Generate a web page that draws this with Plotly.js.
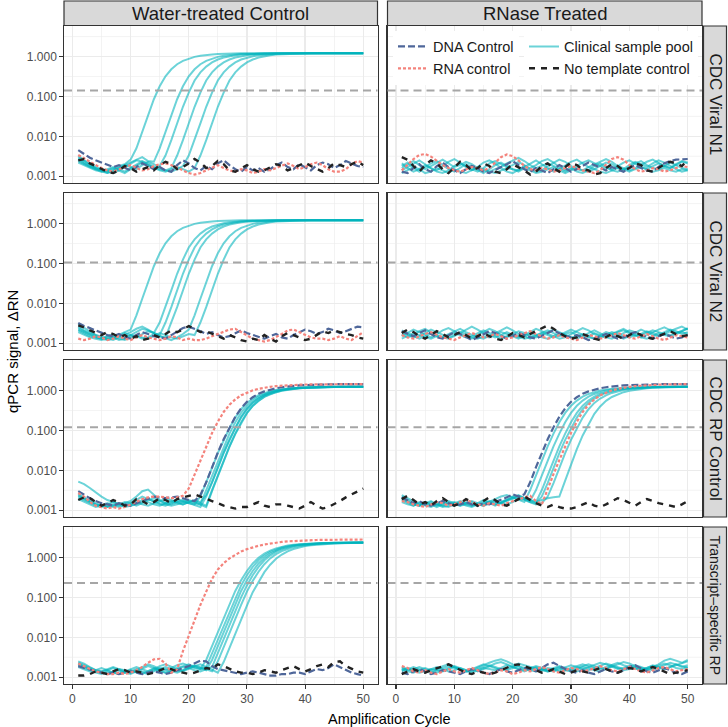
<!DOCTYPE html>
<html>
<head>
<meta charset="utf-8">
<script src="https://cdn.plot.ly/plotly-3.0.1.min.js"></script>
<style>html,body{margin:0;padding:0;background:#fff;}#chart{width:728px;height:727px;}</style>
</head>
<body>
<div id="chart"></div>
<script>
// ---------------- DATA ----------------
const cycles = [1,2,3,4,5,6,7,8,9,10,11,12,13,14,15,16,17,18,19,20,21,22,23,24,25,26,27,28,29,30,31,32,33,34,35,36,37,38,39,40,41,42,43,44,45,46,47,48,49,50];
const treatments = ["Water-treated Control", "RNase Treated"];
const targets = ["CDC Viral N1", "CDC Viral N2", "CDC RP Control", "Transcript\u2013specific RP"];
const thresholds = [0.14, 0.105, 0.12, 0.23];
const seriesNames = ["DNA Control", "RNA control", "Clinical sample pool", "No template control"];

// ---- CDC Viral N1, water-treated ----
const n1w_dna = [.0045,.0036,.0029,.0025,.0022,.0019,.0017,.0019,.0016,.0014,
.0017,.0021,.0018,.0015,.0017,.0014,.0013,.0019,.0025,.0021,
.0016,.0014,.0018,.0015,.0021,.0025,.0019,.0015,.0013,.0017,
.0014,.0016,.0013,.0015,.0019,.0022,.0017,.0015,.0020,.0017,
.0014,.0019,.0022,.0020,.0016,.0019,.0024,.0021,.0018,.0017];
const n1w_rna = [.0034,.0028,.0022,.0019,.0016,.0014,.0013,.0015,.0017,.0019,
.0016,.0014,.0015,.0018,.0020,.0021,.0019,.0016,.0014,.0012,
.0011,.0012,.0014,.0017,.0019,.0016,.0014,.0013,.0015,.0014,
.0012,.0013,.0015,.0014,.0016,.0019,.0021,.0018,.0015,.0017,
.0020,.0022,.0019,.0015,.0013,.0013,.0015,.0020,.0024,.0022];
const n1w_ntc = [.0025,.0027,.0021,.0018,.0015,.0013,.0012,.0014,.0018,.0016,
.0013,.0015,.0017,.0014,.0019,.0023,.0020,.0015,.0017,.0021,
.0027,.0022,.0016,.0018,.0024,.0020,.0014,.0013,.0016,.0019,
.0015,.0013,.0014,.0017,.0020,.0018,.0014,.0016,.0019,.0022,
.0018,.0015,.0013,.0016,.0021,.0019,.0017,.0020,.0023,.0019];
const n1w_clin = [
[.0030,.0024,.0019,.0016,.0014,.0013,.0015,.0018,.0020,.0026,
.005,.013,.035,.085,.18,.32,.48,.64,.78,.89,
.98,1.05,1.10,1.13,1.15,1.17,1.18,1.19,1.2,1.2,
1.2,1.2,1.2,1.2,1.2,1.2,1.2,1.2,1.2,1.2,
1.2,1.2,1.2,1.2,1.2,1.2,1.2,1.2,1.2,1.2],
[.0028,.0022,.0018,.0015,.0013,.0012,.0014,.0016,.0019,.0022,
.0026,.0030,.0024,.0023,.005,.013,.035,.085,.18,.32,
.48,.64,.78,.89,.98,1.05,1.10,1.13,1.15,1.17,
1.18,1.19,1.2,1.2,1.2,1.2,1.2,1.2,1.2,1.2,
1.2,1.2,1.2,1.2,1.2,1.2,1.2,1.2,1.2,1.2],
[.0033,.0026,.0020,.0017,.0015,.0013,.0012,.0014,.0017,.0021,
.0025,.0023,.0019,.0016,.0018,.0033,.008,.021,.055,.125,
.25,.40,.56,.71,.84,.94,1.02,1.08,1.12,1.14,
1.16,1.175,1.185,1.19,1.2,1.2,1.2,1.2,1.2,1.2,
1.2,1.2,1.2,1.2,1.2,1.2,1.2,1.2,1.2,1.2],
[.0026,.0021,.0018,.0016,.0014,.0015,.0017,.0015,.0013,.0016,
.0020,.0024,.0021,.0017,.0015,.0014,.0016,.0033,.008,.021,
.055,.125,.25,.40,.56,.71,.84,.94,1.02,1.08,
1.12,1.14,1.16,1.175,1.185,1.19,1.2,1.2,1.2,1.2,
1.2,1.2,1.2,1.2,1.2,1.2,1.2,1.2,1.2,1.2],
[.0024,.0020,.0017,.0015,.0014,.0012,.0013,.0016,.0019,.0017,
.0015,.0019,.0023,.0020,.0016,.0014,.0013,.0015,.0018,.0033,
.008,.021,.055,.125,.25,.40,.56,.71,.84,.94,
1.02,1.08,1.12,1.14,1.16,1.175,1.185,1.19,1.2,1.2,
1.2,1.2,1.2,1.2,1.2,1.2,1.2,1.2,1.2,1.2],
[.0022,.0019,.0016,.0014,.0013,.0014,.0016,.0014,.0012,.0015,
.0018,.0022,.0019,.0016,.0014,.0013,.0015,.0017,.0015,.0013,
.0016,.0033,.008,.021,.055,.125,.25,.40,.56,.71,
.84,.94,1.02,1.08,1.12,1.14,1.16,1.175,1.185,1.19,
1.2,1.2,1.2,1.2,1.2,1.2,1.2,1.2,1.2,1.2]];

// ---- CDC Viral N1, RNase treated ----
const n1r_dna = [.0013,.0012,.0016,.0020,.0015,.0013,.0018,.0022,.0017,.0014,
.0012,.0015,.0018,.0016,.0013,.0012,.0014,.0017,.0020,.0024,
.0019,.0015,.0013,.0016,.0014,.0012,.0015,.0019,.0016,.0013,
.0015,.0018,.0022,.0019,.0016,.0014,.0017,.0015,.0013,.0016,
.0019,.0016,.0014,.0013,.0017,.0021,.0024,.0026,.0027,.0027];
const n1r_rna = [.0014,.0019,.0027,.0034,.0036,.0031,.0024,.0019,.0016,.0014,
.0013,.0015,.0017,.0016,.0014,.0016,.0022,.0030,.0035,.0032,
.0025,.0018,.0015,.0014,.0016,.0015,.0013,.0014,.0016,.0018,
.0016,.0014,.0013,.0012,.0014,.0019,.0027,.0030,.0026,.0019,
.0015,.0013,.0014,.0016,.0015,.0013,.0014,.0016,.0018,.0017];
const n1r_ntc = [.0030,.0026,.0018,.0013,.0019,.0025,.0021,.0015,.0012,.0017,
.0023,.0019,.0014,.0016,.0021,.0018,.0013,.0012,.0015,.0020,
.0017,.0014,.0011,.0013,.0018,.0021,.0016,.0013,.0017,.0022,
.0019,.0015,.0014,.0011,.0012,.0016,.0020,.0018,.0014,.0016,
.0021,.0019,.0014,.0013,.0016,.0020,.0023,.0021,.0018,.0025];
const n1r_clin = [
[.0018,.0022,.0016,.0013,.0017,.0021,.0024,.0019,.0015,.0013,
.0016,.0020,.0017,.0014,.0012,.0015,.0019,.0022,.0018,.0015,
.0014,.0017,.0021,.0025,.0020,.0016,.0013,.0015,.0019,.0023,
.0026,.0021,.0017,.0015,.0018,.0022,.0020,.0016,.0014,.0017,
.0021,.0024,.0019,.0016,.0015,.0018,.0022,.0019,.0016,.0015],
[.0014,.0017,.0021,.0025,.0020,.0016,.0014,.0018,.0023,.0027,
.0022,.0017,.0015,.0013,.0016,.0021,.0024,.0020,.0017,.0019,
.0023,.0019,.0015,.0013,.0014,.0018,.0022,.0026,.0023,.0018,
.0015,.0014,.0017,.0020,.0024,.0027,.0023,.0018,.0016,.0014,
.0016,.0019,.0023,.0026,.0022,.0018,.0016,.0019,.0023,.0021],
[.0021,.0016,.0013,.0015,.0019,.0016,.0013,.0012,.0014,.0018,
.0021,.0018,.0014,.0017,.0022,.0025,.0021,.0016,.0013,.0012,
.0015,.0018,.0016,.0019,.0024,.0027,.0022,.0017,.0014,.0016,
.0013,.0012,.0014,.0018,.0021,.0017,.0014,.0013,.0015,.0019,
.0023,.0020,.0017,.0021,.0025,.0022,.0018,.0015,.0013,.0014],
[.0016,.0020,.0024,.0019,.0015,.0018,.0022,.0026,.0021,.0017,
.0019,.0023,.0020,.0016,.0014,.0013,.0015,.0017,.0021,.0025,
.0029,.0024,.0019,.0016,.0018,.0021,.0018,.0015,.0013,.0015,
.0018,.0022,.0025,.0021,.0018,.0016,.0015,.0018,.0022,.0025,
.0021,.0017,.0015,.0018,.0021,.0018,.0016,.0020,.0024,.0022],
[.0012,.0014,.0017,.0015,.0012,.0013,.0016,.0014,.0012,.0015,
.0013,.0012,.0014,.0017,.0015,.0013,.0012,.0014,.0016,.0015,
.0013,.0016,.0014,.0012,.0013,.0015,.0017,.0014,.0012,.0014,
.0016,.0014,.0013,.0015,.0013,.0012,.0014,.0016,.0015,.0013,
.0015,.0017,.0015,.0013,.0014,.0016,.0014,.0013,.0015,.0014]];

// ---- CDC Viral N2, water-treated ----
const n2w_dna = [.0032,.0027,.0024,.0021,.0018,.0016,.0015,.0017,.0014,.0013,
.0016,.0019,.0017,.0015,.0014,.0013,.0016,.0020,.0024,.0026,
.0023,.0020,.0017,.0019,.0016,.0014,.0015,.0018,.0021,.0018,
.0016,.0014,.0013,.0015,.0017,.0014,.0013,.0016,.0019,.0022,
.0020,.0017,.0019,.0023,.0021,.0018,.0020,.0023,.0026,.0025];
const n2w_rna = [.0013,.0012,.0013,.0015,.0014,.0012,.0013,.0015,.0013,.0012,
.0014,.0016,.0014,.0013,.0012,.0013,.0015,.0014,.0012,.0013,
.0012,.0012,.0013,.0015,.0017,.0019,.0022,.0023,.0019,.0015,
.0013,.0012,.0011,.0012,.0014,.0017,.0021,.0022,.0019,.0016,
.0014,.0013,.0013,.0012,.0013,.0015,.0013,.0012,.0015,.0019];
const n2w_ntc = [.0028,.0025,.0021,.0018,.0016,.0019,.0017,.0014,.0016,.0013,
.0015,.0012,.0013,.0016,.0014,.0017,.0021,.0019,.0022,.0027,
.0023,.0019,.0020,.0017,.0015,.0013,.0016,.0014,.0012,.0011,
.0013,.0012,.0016,.0013,.0011,.0015,.0018,.0016,.0014,.0012,
.0013,.0016,.0020,.0018,.0021,.0019,.0017,.0016,.0014,.0013];
const n2w_clin = [
[.0026,.0021,.0018,.0016,.0014,.0013,.0014,.0016,.0019,.0022,
.005,.013,.035,.085,.18,.32,.48,.64,.78,.89,
.98,1.05,1.10,1.13,1.15,1.17,1.18,1.19,1.2,1.2,
1.2,1.2,1.2,1.2,1.2,1.2,1.2,1.2,1.2,1.2,
1.2,1.2,1.2,1.2,1.2,1.2,1.2,1.2,1.2,1.2],
[.0022,.0019,.0016,.0014,.0013,.0015,.0017,.0015,.0013,.0016,
.0019,.0023,.0021,.0018,.0033,.008,.021,.055,.125,.25,
.40,.56,.71,.84,.94,1.02,1.08,1.12,1.14,1.16,
1.175,1.185,1.19,1.2,1.2,1.2,1.2,1.2,1.2,1.2,
1.2,1.2,1.2,1.2,1.2,1.2,1.2,1.2,1.2,1.2],
[.0030,.0024,.0019,.0016,.0014,.0013,.0012,.0014,.0016,.0019,
.0023,.0026,.0022,.0018,.0016,.0033,.008,.021,.055,.125,
.25,.40,.56,.71,.84,.94,1.02,1.08,1.12,1.14,
1.16,1.175,1.185,1.19,1.2,1.2,1.2,1.2,1.2,1.2,
1.2,1.2,1.2,1.2,1.2,1.2,1.2,1.2,1.2,1.2],
[.0024,.0020,.0017,.0015,.0013,.0012,.0013,.0015,.0018,.0016,
.0014,.0017,.0020,.0018,.0015,.0014,.0033,.008,.021,.055,
.125,.25,.40,.56,.71,.84,.94,1.02,1.08,1.12,
1.14,1.16,1.175,1.185,1.19,1.2,1.2,1.2,1.2,1.2,
1.2,1.2,1.2,1.2,1.2,1.2,1.2,1.2,1.2,1.2],
[.0021,.0018,.0015,.0014,.0013,.0015,.0014,.0012,.0013,.0016,
.0015,.0013,.0014,.0017,.0015,.0013,.0012,.0014,.0017,.0022,
.005,.013,.035,.085,.18,.32,.48,.64,.78,.89,
.98,1.05,1.10,1.13,1.15,1.17,1.18,1.19,1.2,1.2,
1.2,1.2,1.2,1.2,1.2,1.2,1.2,1.2,1.2,1.2],
[.0019,.0016,.0014,.0013,.0012,.0013,.0015,.0013,.0012,.0014,
.0016,.0014,.0013,.0015,.0018,.0016,.0014,.0013,.0015,.0017,
.0016,.0033,.008,.021,.055,.125,.25,.40,.56,.71,
.84,.94,1.02,1.08,1.12,1.14,1.16,1.175,1.185,1.19,
1.2,1.2,1.2,1.2,1.2,1.2,1.2,1.2,1.2,1.2]];

// ---- CDC Viral N2, RNase treated ----
const n2r_dna = [.0020,.0017,.0015,.0018,.0021,.0017,.0014,.0013,.0016,.0019,
.0017,.0014,.0012,.0014,.0017,.0020,.0018,.0015,.0013,.0015,
.0018,.0016,.0014,.0013,.0015,.0018,.0021,.0018,.0015,.0014,
.0016,.0014,.0012,.0013,.0015,.0017,.0015,.0013,.0014,.0017,
.0019,.0016,.0014,.0013,.0015,.0017,.0015,.0013,.0014,.0016];
const n2r_rna = [.0016,.0014,.0013,.0015,.0017,.0019,.0016,.0014,.0013,.0012,
.0014,.0016,.0018,.0016,.0014,.0015,.0017,.0015,.0013,.0014,
.0016,.0018,.0020,.0017,.0015,.0013,.0014,.0016,.0014,.0013,
.0012,.0014,.0016,.0015,.0013,.0014,.0016,.0018,.0016,.0014,
.0013,.0015,.0017,.0015,.0013,.0012,.0014,.0016,.0015,.0014];
const n2r_ntc = [.0018,.0022,.0019,.0015,.0013,.0016,.0020,.0017,.0014,.0016,
.0019,.0016,.0013,.0015,.0018,.0015,.0013,.0012,.0015,.0018,
.0016,.0014,.0017,.0020,.0024,.0028,.0023,.0018,.0015,.0013,
.0014,.0017,.0015,.0013,.0012,.0014,.0017,.0015,.0013,.0016,
.0019,.0016,.0014,.0013,.0015,.0018,.0020,.0017,.0015,.0016];
const n2r_clin = [
[.0015,.0018,.0022,.0019,.0016,.0014,.0017,.0021,.0024,.0020,
.0017,.0015,.0013,.0016,.0019,.0023,.0020,.0016,.0014,.0017,
.0020,.0018,.0015,.0014,.0016,.0019,.0022,.0019,.0016,.0014,
.0013,.0015,.0018,.0021,.0018,.0015,.0017,.0020,.0023,.0019,
.0016,.0014,.0016,.0019,.0022,.0025,.0021,.0018,.0020,.0024],
[.0021,.0018,.0015,.0013,.0015,.0018,.0016,.0014,.0017,.0020,
.0023,.0019,.0016,.0014,.0013,.0015,.0018,.0021,.0025,.0021,
.0017,.0015,.0013,.0015,.0018,.0016,.0014,.0016,.0019,.0022,
.0019,.0016,.0014,.0013,.0016,.0019,.0017,.0015,.0013,.0015,
.0018,.0022,.0019,.0016,.0015,.0017,.0020,.0023,.0026,.0022],
[.0017,.0014,.0016,.0020,.0023,.0019,.0015,.0014,.0013,.0015,
.0018,.0022,.0026,.0022,.0018,.0016,.0014,.0016,.0019,.0016,
.0014,.0016,.0019,.0023,.0020,.0017,.0015,.0013,.0014,.0017,
.0020,.0024,.0021,.0017,.0015,.0014,.0016,.0019,.0021,.0018,
.0015,.0017,.0020,.0018,.0016,.0019,.0022,.0020,.0017,.0019],
[.0013,.0015,.0018,.0016,.0014,.0013,.0015,.0014,.0016,.0018,
.0016,.0014,.0015,.0018,.0021,.0018,.0015,.0013,.0015,.0017,
.0015,.0013,.0014,.0016,.0014,.0013,.0015,.0018,.0016,.0014,
.0015,.0017,.0015,.0013,.0014,.0016,.0019,.0017,.0015,.0014,
.0016,.0014,.0013,.0015,.0018,.0016,.0015,.0017,.0019,.0017],
[.0019,.0016,.0014,.0015,.0018,.0022,.0019,.0016,.0014,.0016,
.0019,.0017,.0014,.0013,.0015,.0014,.0016,.0019,.0017,.0015,
.0013,.0015,.0017,.0016,.0018,.0021,.0018,.0015,.0017,.0019,
.0016,.0014,.0015,.0018,.0016,.0014,.0013,.0015,.0018,.0021,
.0019,.0016,.0018,.0021,.0019,.0017,.0016,.0018,.0021,.0023]];

// ---- CDC RP Control, water-treated ----
const rpw_dna = [.0030,.0024,.0020,.0017,.0015,.0014,.0013,.0015,.0014,.0013,
.0015,.0017,.0020,.0022,.0021,.0020,.0021,.0022,.0020,.0018,
.0017,.0024,.005,.012,.028,.06,.12,.22,.36,.52,
.68,.83,.95,1.06,1.14,1.21,1.27,1.31,1.35,1.37,
1.39,1.41,1.42,1.43,1.44,1.45,1.45,1.45,1.45,1.45];
const rpw_rna = [.0027,.0022,.0016,.0013,.0012,.0011,.0012,.0011,.0012,.0014,
.0016,.0019,.0021,.0022,.0022,.0021,.0020,.0021,.0023,.0035,
.008,.018,.041,.086,.165,.29,.44,.60,.76,.89,
1.01,1.10,1.18,1.24,1.29,1.33,1.36,1.38,1.40,1.415,
1.425,1.435,1.445,1.45,1.45,1.45,1.45,1.45,1.45,1.45];
const rpw_ntc = [.0018,.0021,.0020,.0016,.0013,.0015,.0018,.0016,.0013,.0014,
.0019,.0017,.0014,.0016,.0020,.0018,.0015,.0019,.0021,.0023,
.0025,.0022,.0019,.0017,.0015,.0013,.0012,.0011,.0012,.0012,
.0014,.0016,.0013,.0012,.0014,.0014,.0013,.0012,.0011,.0013,
.0016,.0013,.0011,.0012,.0014,.0017,.0021,.0025,.0030,.0035];
const rpw_clin = [
[.0052,.0045,.0036,.0028,.0022,.0018,.0016,.0014,.0013,.0015,
.0018,.0022,.0019,.0016,.0014,.0013,.0015,.0017,.0016,.0015,
.0014,.0022,.0048,.0115,.027,.058,.115,.21,.34,.49,
.63,.76,.87,.96,1.03,1.09,1.13,1.16,1.18,1.2,
1.21,1.22,1.23,1.235,1.24,1.24,1.24,1.24,1.24,1.24],
[.0024,.0020,.0017,.0014,.0013,.0012,.0014,.0013,.0015,.0017,
.0022,.0030,.0033,.0025,.0018,.0015,.0014,.0016,.0018,.0017,
.0015,.0014,.0032,.0075,.0175,.04,.083,.16,.275,.415,
.56,.70,.82,.92,1.0,1.06,1.11,1.145,1.17,1.19,
1.205,1.215,1.225,1.232,1.238,1.24,1.24,1.24,1.24,1.24],
[.0021,.0018,.0015,.0013,.0012,.0013,.0012,.0014,.0016,.0015,
.0013,.0015,.0018,.0020,.0017,.0015,.0016,.0019,.0017,.0015,
.0013,.0012,.0022,.0048,.0115,.027,.058,.115,.21,.34,
.49,.63,.76,.87,.96,1.03,1.09,1.13,1.16,1.18,
1.2,1.21,1.22,1.23,1.235,1.24,1.24,1.24,1.24,1.24],
[.0019,.0016,.0014,.0012,.0013,.0015,.0013,.0012,.0013,.0014,
.0016,.0014,.0013,.0015,.0017,.0019,.0018,.0016,.0014,.0016,
.0018,.0016,.0024,.0050,.012,.028,.060,.12,.22,.35,
.50,.64,.77,.88,.97,1.04,1.10,1.14,1.17,1.19,
1.21,1.22,1.23,1.24,1.245,1.25,1.25,1.25,1.25,1.25],
[.0023,.0019,.0016,.0014,.0013,.0012,.0013,.0015,.0014,.0013,
.0015,.0018,.0016,.0014,.0013,.0015,.0017,.0015,.0014,.0016,
.0017,.0015,.0013,.0032,.0075,.0175,.04,.083,.16,.275,
.415,.56,.70,.82,.92,1.0,1.06,1.11,1.145,1.17,
1.19,1.205,1.215,1.225,1.232,1.238,1.24,1.24,1.24,1.24],
[.0026,.0021,.0017,.0015,.0013,.0014,.0016,.0014,.0012,.0013,
.0014,.0016,.0019,.0017,.0015,.0014,.0013,.0014,.0016,.0018,
.0016,.0014,.0012,.0030,.0072,.017,.039,.081,.155,.27,
.41,.55,.69,.81,.91,.99,1.05,1.10,1.135,1.16,
1.18,1.195,1.205,1.215,1.222,1.228,1.232,1.235,1.237,1.238]];

// ---- CDC RP Control, RNase treated ----
const rpr_dna = [.0021,.0018,.0015,.0017,.0014,.0013,.0015,.0017,.0015,.0013,
.0014,.0016,.0014,.0013,.0015,.0014,.0016,.0018,.0021,.0025,
.0022,.0025,.005,.012,.028,.06,.12,.22,.36,.52,
.68,.83,.95,1.06,1.14,1.21,1.27,1.31,1.35,1.37,
1.39,1.41,1.42,1.43,1.44,1.45,1.45,1.45,1.45,1.45];
const rpr_rna = [.0017,.0016,.0014,.0013,.0012,.0014,.0016,.0015,.0013,.0014,
.0016,.0018,.0016,.0014,.0013,.0015,.0014,.0013,.0015,.0017,
.0019,.0021,.0023,.0017,.0014,.0035,.008,.018,.041,.086,
.165,.29,.44,.60,.76,.89,1.01,1.10,1.18,1.24,
1.29,1.33,1.36,1.38,1.40,1.415,1.425,1.435,1.445,1.45];
const rpr_ntc = [.0019,.0023,.0018,.0014,.0016,.0013,.0017,.0020,.0016,.0013,
.0015,.0019,.0016,.0013,.0017,.0021,.0018,.0014,.0013,.0016,
.0019,.0022,.0018,.0015,.0013,.0012,.0014,.0012,.0011,.0011,
.0012,.0014,.0016,.0013,.0012,.0014,.0017,.0020,.0018,.0015,
.0013,.0016,.0019,.0017,.0015,.0014,.0013,.0012,.0014,.0017];
const rpr_clin = [
[.0024,.0020,.0016,.0014,.0015,.0017,.0014,.0013,.0015,.0016,
.0014,.0015,.0017,.0015,.0014,.0016,.0019,.0022,.0024,.0021,
.0018,.0016,.0032,.0075,.0175,.04,.083,.16,.275,.415,
.56,.70,.82,.92,1.0,1.06,1.11,1.145,1.17,1.19,
1.205,1.215,1.225,1.232,1.238,1.24,1.24,1.24,1.24,1.24],
[.0020,.0017,.0014,.0013,.0016,.0014,.0012,.0014,.0016,.0014,
.0013,.0016,.0014,.0013,.0015,.0017,.0016,.0015,.0018,.0021,
.0024,.0020,.0017,.0032,.0075,.0175,.04,.083,.16,.275,
.415,.56,.70,.82,.92,1.0,1.06,1.11,1.145,1.17,
1.19,1.205,1.215,1.225,1.232,1.238,1.24,1.24,1.24,1.24],
[.0018,.0015,.0013,.0016,.0014,.0013,.0015,.0013,.0012,.0014,
.0016,.0014,.0013,.0015,.0018,.0016,.0014,.0016,.0019,.0022,
.0023,.0020,.0018,.0016,.0032,.0075,.0175,.04,.083,.16,
.275,.415,.56,.70,.82,.92,1.0,1.06,1.11,1.145,
1.17,1.19,1.205,1.215,1.225,1.232,1.238,1.24,1.24,1.24],
[.0022,.0018,.0015,.0013,.0014,.0016,.0014,.0012,.0013,.0015,
.0017,.0015,.0013,.0014,.0016,.0015,.0013,.0015,.0017,.0020,
.0022,.0019,.0016,.0015,.0022,.0048,.0115,.027,.058,.115,
.21,.34,.49,.63,.76,.87,.96,1.03,1.09,1.13,
1.16,1.18,1.2,1.21,1.22,1.23,1.235,1.24,1.24,1.24],
[.0016,.0014,.0013,.0015,.0013,.0012,.0014,.0016,.0014,.0013,
.0015,.0013,.0012,.0014,.0013,.0015,.0017,.0015,.0014,.0016,
.0019,.0018,.0016,.0014,.0015,.0022,.0048,.0115,.027,.058,
.115,.21,.34,.49,.63,.76,.87,.96,1.03,1.09,
1.13,1.16,1.18,1.2,1.21,1.22,1.23,1.235,1.24,1.24],
[.0019,.0016,.0014,.0013,.0015,.0014,.0013,.0015,.0017,.0015,
.0013,.0014,.0016,.0014,.0013,.0015,.0014,.0016,.0018,.0020,
.0021,.0019,.0017,.0016,.0018,.0020,.0021,.0022,.0055,.014,
.034,.075,.145,.26,.40,.55,.69,.81,.91,.99,
1.05,1.10,1.14,1.17,1.19,1.21,1.22,1.23,1.235,1.24]];

// ---- Transcript-specific RP, water-treated ----
const tsw_dna = [.0019,.0017,.0015,.0014,.0013,.0012,.0013,.0012,.0013,.0014,
.0013,.0012,.0013,.0014,.0013,.0012,.0013,.0015,.0017,.0019,
.0022,.0026,.0025,.0019,.0016,.0015,.0014,.0013,.0012,.0013,
.0014,.0013,.0012,.0011,.0011,.0012,.0012,.0013,.0013,.0012,
.0014,.0016,.0015,.0017,.0021,.0018,.0015,.0013,.0012,.0011];
const tsw_rna = [.0022,.0019,.0016,.0014,.0013,.0012,.0012,.0013,.0012,.0013,
.0015,.0018,.0023,.0028,.0029,.0022,.0013,.0016,.0045,.011,
.027,.065,.14,.29,.50,.72,.95,1.18,1.42,1.62,
1.80,1.97,2.12,2.25,2.37,2.46,2.54,2.60,2.65,2.69,
2.72,2.75,2.77,2.79,2.80,2.81,2.82,2.82,2.83,2.83];
const tsw_ntc = [.0011,.0011,.0012,.0014,.0013,.0012,.0014,.0016,.0015,.0013,
.0014,.0013,.0012,.0013,.0015,.0017,.0016,.0014,.0013,.0012,
.0013,.0015,.0017,.0016,.0021,.0019,.0016,.0014,.0013,.0013,
.0012,.0013,.0015,.0014,.0013,.0015,.0017,.0019,.0016,.0014,
.0016,.0019,.0021,.0018,.0024,.0025,.0019,.0016,.0014,.0013];
const tsw_clin = [
[.0025,.0022,.0018,.0015,.0014,.0016,.0018,.0016,.0014,.0013,
.0015,.0018,.0021,.0019,.0016,.0015,.0017,.0020,.0022,.0019,
.0017,.0016,.0027,.006,.0135,.03,.067,.145,.27,.46,
.71,.98,1.25,1.49,1.69,1.86,1.99,2.08,2.15,2.21,
2.25,2.285,2.31,2.33,2.345,2.355,2.365,2.37,2.37,2.37],
[.0022,.0019,.0016,.0014,.0013,.0012,.0014,.0016,.0015,.0013,
.0014,.0016,.0019,.0017,.0014,.0013,.0015,.0017,.0019,.0021,
.0018,.0016,.0018,.004,.009,.02,.045,.10,.20,.36,
.58,.85,1.12,1.38,1.60,1.78,1.93,2.04,2.12,2.18,
2.23,2.27,2.30,2.32,2.34,2.35,2.36,2.37,2.37,2.37],
[.0020,.0017,.0015,.0013,.0012,.0014,.0013,.0012,.0014,.0016,
.0018,.0016,.0014,.0016,.0019,.0021,.0018,.0016,.0014,.0016,
.0019,.0017,.0015,.0027,.006,.0135,.03,.067,.145,.27,
.46,.71,.98,1.25,1.49,1.69,1.86,1.99,2.08,2.15,
2.21,2.25,2.285,2.31,2.33,2.345,2.355,2.365,2.37,2.37],
[.0018,.0016,.0014,.0015,.0017,.0015,.0013,.0012,.0013,.0015,
.0013,.0012,.0014,.0017,.0015,.0013,.0014,.0016,.0018,.0017,
.0015,.0014,.0016,.0018,.004,.009,.02,.045,.10,.20,
.36,.58,.85,1.12,1.38,1.60,1.78,1.93,2.04,2.12,
2.18,2.23,2.27,2.30,2.32,2.34,2.35,2.36,2.37,2.37],
[.0021,.0018,.0016,.0014,.0013,.0012,.0013,.0015,.0013,.0012,
.0014,.0013,.0012,.0014,.0016,.0018,.0016,.0014,.0015,.0018,
.0020,.0018,.0016,.0014,.0025,.0058,.013,.029,.065,.14,
.26,.44,.68,.95,1.21,1.45,1.65,1.82,1.95,2.05,
2.12,2.18,2.22,2.26,2.29,2.31,2.33,2.34,2.35,2.36],
[.0023,.0020,.0017,.0015,.0014,.0015,.0017,.0015,.0013,.0014,
.0016,.0014,.0013,.0015,.0017,.0016,.0014,.0013,.0015,.0017,
.0019,.0021,.0018,.0015,.0013,.0024,.0055,.0125,.028,.062,
.135,.25,.43,.66,.93,1.19,1.43,1.63,1.80,1.93,
2.03,2.10,2.16,2.20,2.24,2.27,2.29,2.31,2.32,2.33]];

// ---- Transcript-specific RP, RNase treated ----
const tsr_dna = [.0013,.0012,.0014,.0016,.0014,.0012,.0013,.0015,.0014,.0013,
.0012,.0014,.0016,.0015,.0013,.0012,.0014,.0016,.0014,.0013,
.0015,.0017,.0016,.0014,.0017,.0021,.0023,.0019,.0016,.0014,
.0013,.0015,.0013,.0012,.0014,.0016,.0014,.0013,.0015,.0018,
.0020,.0017,.0014,.0013,.0015,.0017,.0015,.0013,.0012,.0014];
const tsr_rna = [.0019,.0017,.0014,.0013,.0015,.0013,.0012,.0014,.0016,.0014,
.0013,.0015,.0017,.0015,.0013,.0012,.0013,.0015,.0014,.0012,
.0013,.0015,.0014,.0016,.0018,.0016,.0014,.0013,.0015,.0017,
.0016,.0014,.0015,.0017,.0019,.0017,.0015,.0014,.0016,.0018,
.0016,.0014,.0013,.0015,.0017,.0018,.0016,.0014,.0015,.0016];
const tsr_ntc = [.0012,.0014,.0016,.0014,.0013,.0015,.0017,.0019,.0021,.0018,
.0015,.0013,.0012,.0014,.0013,.0012,.0013,.0015,.0018,.0020,
.0021,.0019,.0017,.0015,.0013,.0014,.0016,.0014,.0012,.0013,
.0015,.0014,.0013,.0015,.0017,.0016,.0014,.0013,.0015,.0017,
.0016,.0014,.0016,.0018,.0016,.0014,.0012,.0013,.0014,.0015];
const tsr_clin = [
[.0018,.0016,.0014,.0015,.0017,.0015,.0016,.0019,.0021,.0018,
.0016,.0014,.0015,.0017,.0020,.0023,.0026,.0028,.0025,.0021,
.0018,.0016,.0015,.0017,.0015,.0014,.0016,.0018,.0016,.0015,
.0017,.0019,.0021,.0019,.0017,.0016,.0018,.0021,.0024,.0022,
.0019,.0017,.0016,.0018,.0021,.0026,.0029,.0026,.0023,.0027],
[.0014,.0016,.0018,.0016,.0014,.0013,.0015,.0017,.0019,.0017,
.0015,.0014,.0016,.0014,.0016,.0019,.0022,.0024,.0021,.0018,
.0016,.0015,.0017,.0019,.0017,.0015,.0014,.0016,.0018,.0020,
.0018,.0016,.0015,.0017,.0019,.0022,.0020,.0018,.0016,.0018,
.0020,.0018,.0016,.0015,.0017,.0020,.0023,.0021,.0018,.0020],
[.0016,.0014,.0013,.0015,.0014,.0016,.0018,.0016,.0014,.0015,
.0017,.0015,.0014,.0016,.0018,.0020,.0018,.0016,.0015,.0017,
.0019,.0017,.0015,.0014,.0016,.0015,.0017,.0019,.0017,.0015,
.0014,.0016,.0018,.0020,.0023,.0021,.0018,.0016,.0017,.0019,
.0017,.0015,.0017,.0020,.0018,.0016,.0018,.0021,.0019,.0017],
[.0015,.0017,.0015,.0013,.0014,.0016,.0015,.0014,.0016,.0018,
.0016,.0014,.0013,.0015,.0017,.0016,.0015,.0017,.0020,.0018,
.0016,.0014,.0016,.0018,.0016,.0014,.0015,.0017,.0015,.0014,
.0016,.0018,.0017,.0015,.0014,.0016,.0019,.0017,.0015,.0016,
.0018,.0016,.0015,.0017,.0019,.0022,.0020,.0017,.0016,.0018],
[.0017,.0015,.0016,.0018,.0016,.0014,.0013,.0015,.0017,.0019,
.0017,.0015,.0016,.0018,.0021,.0019,.0017,.0015,.0016,.0019,
.0022,.0020,.0018,.0016,.0015,.0017,.0016,.0014,.0015,.0017,
.0019,.0021,.0019,.0017,.0016,.0018,.0020,.0023,.0020,.0018,
.0016,.0015,.0017,.0019,.0017,.0016,.0018,.0020,.0022,.0025]];

// panel table (row = target, col = treatment)
const panels = [
  {row:0, col:0, dna:n1w_dna, rna:n1w_rna, ntc:n1w_ntc, clin:n1w_clin},
  {row:0, col:1, dna:n1r_dna, rna:n1r_rna, ntc:n1r_ntc, clin:n1r_clin},
  {row:1, col:0, dna:n2w_dna, rna:n2w_rna, ntc:n2w_ntc, clin:n2w_clin},
  {row:1, col:1, dna:n2r_dna, rna:n2r_rna, ntc:n2r_ntc, clin:n2r_clin},
  {row:2, col:0, dna:rpw_dna, rna:rpw_rna, ntc:rpw_ntc, clin:rpw_clin},
  {row:2, col:1, dna:rpr_dna, rna:rpr_rna, ntc:rpr_ntc, clin:rpr_clin},
  {row:3, col:0, dna:tsw_dna, rna:tsw_rna, ntc:tsw_ntc, clin:tsw_clin},
  {row:3, col:1, dna:tsr_dna, rna:tsr_rna, ntc:tsr_ntc, clin:tsr_clin}
];

// ---------------- STYLE / LAYOUT ----------------
const W = 728, H = 727;
const FONT = "Liberation Sans, Arial, Helvetica, sans-serif";
const C_DNA = "#4F679A", C_RNA = "#F4837C", C_CLIN = "rgba(0,180,188,0.58)", C_NTC = "#222222";
const GRID = "#EBEBEB", BORDER = "#333333";
const colPx = [[64, 377.5], [387.5, 702]];
const rowTopPx = [26, 193, 360, 527];
const PH = 157;
const stripX = [703.5, 726.5];
const xRange = [-1.45, 52.45];
const yRange = [-3.17, 0.765];
const minorY = [0.0031623, 0.031623, 0.31623, 3.1623];
const px = v => v / W;
const py = v => 1 - v / H;

const traces = [], shapes = [], annotations = [];
const layout = {
  width: W, height: H, margin: {l:0, r:0, t:0, b:0},
  paper_bgcolor: "white", plot_bgcolor: "white",
  font: {family: FONT, color: "#1A1A1A"},
  showlegend: true,
  legend: {x: px(393), y: py(30.5), xanchor: "left", yanchor: "top", bgcolor: "white", borderwidth: 0,
           font: {family: FONT, size: 14.5, color: "#1A1A1A"}, tracegroupgap: 0, orientation: "v"},
  legend2: {x: px(524), y: py(30.5), xanchor: "left", yanchor: "top", bgcolor: "white", borderwidth: 0,
           font: {family: FONT, size: 14.5, color: "#1A1A1A"}, tracegroupgap: 0, orientation: "v"}
};

panels.forEach((p, i) => {
  const n = i + 1;
  const xa = n === 1 ? "x" : "x" + n, ya = n === 1 ? "y" : "y" + n;
  const xk = n === 1 ? "xaxis" : "xaxis" + n, yk = n === 1 ? "yaxis" : "yaxis" + n;
  const top = rowTopPx[p.row], bot = top + PH;
  const bottomRow = p.row === 3, leftCol = p.col === 0;
  layout[xk] = {
    domain: [px(colPx[p.col][0]), px(colPx[p.col][1])], anchor: ya, range: xRange,
    tick0: 0, dtick: 10, showgrid: true, gridcolor: GRID, gridwidth: 1.2, zeroline: false,
    minor: {tick0: 0, dtick: 5, showgrid: true, gridcolor: GRID, gridwidth: 0.6, ticks: ""},
    showline: true, mirror: true, linecolor: BORDER, linewidth: 1.2,
    ticks: bottomRow ? "outside" : "", ticklen: 3.5, tickwidth: 1.1, tickcolor: BORDER,
    showticklabels: bottomRow, tickfont: {family: FONT, size: 12, color: "#4D4D4D"}
  };
  layout[yk] = {
    domain: [py(bot), py(top)], anchor: xa, type: "log", range: yRange,
    dtick: 1, tickformat: ".3f", showgrid: true, gridcolor: GRID, gridwidth: 1.2, zeroline: false,
    showline: true, mirror: true, linecolor: BORDER, linewidth: 1.2,
    ticks: leftCol ? "outside" : "", ticklen: 3.5, tickwidth: 1.1, tickcolor: BORDER,
    showticklabels: leftCol, tickfont: {family: FONT, size: 12, color: "#4D4D4D"}
  };
  // minor horizontal grid lines (half decades)
  minorY.forEach(v => shapes.push({type: "line", xref: xa + " domain", yref: ya, x0: 0, x1: 1, y0: v, y1: v,
    line: {color: GRID, width: 0.6}, layer: "below"}));
  // clinical samples
  p.clin.forEach((c, j) => traces.push({type: "scatter", mode: "lines", x: cycles, y: c, xaxis: xa, yaxis: ya,
    name: seriesNames[2], legend: "legend2", showlegend: i === 0 && j === 0, hoverinfo: "skip",
    line: {color: C_CLIN, width: 2}}));
  traces.push({type: "scatter", mode: "lines", x: cycles, y: p.dna, xaxis: xa, yaxis: ya,
    name: seriesNames[0], legend: "legend", showlegend: i === 0, hoverinfo: "skip",
    line: {color: C_DNA, width: 2.2, dash: "7px,3px"}});
  traces.push({type: "scatter", mode: "lines", x: cycles, y: p.rna, xaxis: xa, yaxis: ya,
    name: seriesNames[1], legend: "legend", showlegend: i === 0, hoverinfo: "skip",
    line: {color: C_RNA, width: 2.2, dash: "3px,2px"}});
  traces.push({type: "scatter", mode: "lines", x: cycles, y: p.ntc, xaxis: xa, yaxis: ya,
    name: seriesNames[3], legend: "legend2", showlegend: i === 0, hoverinfo: "skip",
    line: {color: C_NTC, width: 2.4, dash: "6px,6px"}});
  // threshold
  shapes.push({type: "line", xref: xa + " domain", yref: ya, x0: 0, x1: 1,
    y0: thresholds[p.row], y1: thresholds[p.row],
    line: {color: "#A6A6A6", width: 2, dash: "8px,5px"}, layer: "above"});
});

// column strips
treatments.forEach((t, c) => {
  shapes.push({type: "rect", xref: "paper", yref: "paper", x0: px(colPx[c][0]), x1: px(colPx[c][1]),
    y0: py(25.5), y1: py(1), fillcolor: "#D9D9D9", line: {color: BORDER, width: 1.2}, layer: "above"});
  annotations.push({xref: "paper", yref: "paper", x: px((colPx[c][0] + colPx[c][1]) / 2), y: py(13.5),
    text: t, showarrow: false, xanchor: "center", yanchor: "middle",
    font: {family: FONT, size: 18.5, color: "#1A1A1A"}});
});
// row strips
targets.forEach((t, r) => {
  const top = rowTopPx[r], bot = top + PH;
  shapes.push({type: "rect", xref: "paper", yref: "paper", x0: px(stripX[0]), x1: px(stripX[1]),
    y0: py(bot), y1: py(top), fillcolor: "#D9D9D9", line: {color: BORDER, width: 1.2}, layer: "above"});
  annotations.push({xref: "paper", yref: "paper", x: px((stripX[0] + stripX[1]) / 2), y: py((top + bot) / 2),
    text: t, showarrow: false, textangle: 90, xanchor: "center", yanchor: "middle",
    font: {family: FONT, size: r === 3 ? 14 : 17, color: "#1A1A1A"}});
});
// axis titles
annotations.push({xref: "paper", yref: "paper", x: px(389), y: py(719), text: "Amplification Cycle",
  showarrow: false, xanchor: "center", yanchor: "middle", font: {family: FONT, size: 14.5, color: "#000"}});
annotations.push({xref: "paper", yref: "paper", x: px(12), y: py(352), text: "qPCR signal, \u0394RN",
  showarrow: false, textangle: -90, xanchor: "center", yanchor: "middle", font: {family: FONT, size: 15, color: "#000"}});

layout.shapes = shapes;
layout.annotations = annotations;

Plotly.newPlot("chart", traces, layout, {staticPlot: true, displayModeBar: false});
</script>
</body>
</html>
